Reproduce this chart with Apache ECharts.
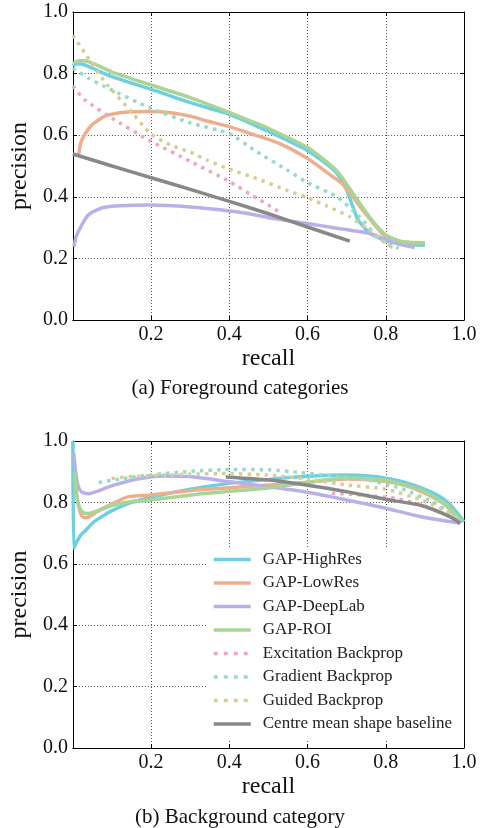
<!DOCTYPE html>
<html>
<head>
<meta charset="utf-8">
<script src="https://cdn.jsdelivr.net/npm/echarts@6/dist/echarts.min.js"></script>
<style>html,body{margin:0;padding:0;background:#fff}#c{width:480px;height:828px}</style>
</head>
<body>
<div id="c"></div>
<script>
const seriesNames = ['GAP-HighRes','GAP-LowRes','GAP-DeepLab','GAP-ROI','Excitation Backprop','Gradient Backprop','Guided Backprop','Centre mean shape baseline'];
const seriesColors = ['#6ccfe3','#eeae8e','#b8b1e8','#a8d595','#f0a7bf','#95dcc4','#d8cd95','#888888'];
const seriesDotted = [false,false,false,false,true,true,true,false];
const captions = ['(a) Foreground categories','(b) Background category'];

// Foreground (recall, precision)
const fgHighRes = [[0.0,0.825],[0.01,0.832],[0.03,0.828],[0.1,0.79],[0.2,0.749],[0.3,0.706],[0.4,0.668],[0.5,0.612],[0.6,0.55],[0.65,0.505],[0.675,0.476],[0.70,0.422],[0.715,0.37],[0.729,0.325],[0.754,0.287],[0.78,0.268],[0.80,0.258],[0.84,0.246],[0.90,0.243]];
const fgLowRes = [[0.014,0.53],[0.02,0.575],[0.032,0.606],[0.05,0.635],[0.082,0.662],[0.12,0.673],[0.15,0.676],[0.2,0.677],[0.25,0.673],[0.3,0.662],[0.343,0.646],[0.4,0.628],[0.45,0.607],[0.526,0.574],[0.6,0.524],[0.658,0.471],[0.692,0.438],[0.741,0.357],[0.795,0.276],[0.841,0.254],[0.9,0.251]];
const fgDeepLab = [[0.003,0.238],[0.008,0.27],[0.016,0.292],[0.03,0.325],[0.041,0.343],[0.06,0.357],[0.082,0.366],[0.12,0.371],[0.2,0.373],[0.3,0.367],[0.381,0.357],[0.45,0.345],[0.509,0.33],[0.6,0.313],[0.675,0.298],[0.758,0.281],[0.8,0.262],[0.84,0.245],[0.874,0.235]];
const fgROI = [[0,0.833],[0.015,0.842],[0.03,0.842],[0.1,0.805],[0.2,0.763],[0.3,0.722],[0.381,0.683],[0.45,0.648],[0.5,0.622],[0.6,0.56],[0.675,0.484],[0.716,0.411],[0.758,0.335],[0.8,0.276],[0.841,0.254],[0.9,0.249]];
const fgExcitation = [[0,0.76],[0.03,0.715],[0.1,0.655],[0.2,0.58],[0.3,0.515],[0.4,0.45],[0.46,0.403],[0.5,0.373],[0.532,0.347]];
const fgGradient = [[0,0.817],[0.04,0.785],[0.082,0.757],[0.2,0.687],[0.3,0.64],[0.4,0.605],[0.468,0.548],[0.55,0.485],[0.6,0.446],[0.675,0.4],[0.733,0.335],[0.774,0.276],[0.8,0.25],[0.833,0.233]];
const fgGuided = [[0,0.925],[0.03,0.868],[0.08,0.776],[0.15,0.675],[0.2,0.603],[0.25,0.568],[0.3,0.545],[0.343,0.519],[0.4,0.49],[0.468,0.46],[0.55,0.42],[0.6,0.397],[0.65,0.37],[0.708,0.335],[0.758,0.292],[0.8,0.249],[0.824,0.23]];
const fgCentre = [[0,0.539],[0.1,0.5],[0.2,0.462],[0.3,0.424],[0.4,0.385],[0.5,0.345],[0.6,0.302],[0.708,0.256]];

// Background (recall, precision)
const bgHighRes = [[0,1.0],[0.002,0.65],[0.01,0.672],[0.021,0.695],[0.032,0.708],[0.054,0.737],[0.082,0.76],[0.1,0.773],[0.148,0.799],[0.2,0.817],[0.3,0.843],[0.4,0.862],[0.5,0.875],[0.6,0.885],[0.7,0.889],[0.757,0.886],[0.8,0.879],[0.84,0.868],[0.891,0.847],[0.93,0.825],[0.957,0.802],[0.98,0.77],[1.0,0.737]];
const bgLowRes = [[0.004,0.894],[0.008,0.84],[0.015,0.785],[0.022,0.758],[0.029,0.75],[0.04,0.752],[0.065,0.772],[0.1,0.795],[0.14,0.818],[0.198,0.824],[0.314,0.84],[0.4,0.848],[0.505,0.857],[0.6,0.866],[0.7,0.876],[0.8,0.868],[0.85,0.855],[0.891,0.835],[0.93,0.81],[0.957,0.786],[0.99,0.735]];
const bgDeepLab = [[0.002,0.96],[0.007,0.9],[0.012,0.86],[0.018,0.84],[0.027,0.831],[0.041,0.828],[0.06,0.835],[0.08,0.845],[0.107,0.857],[0.165,0.876],[0.231,0.886],[0.298,0.884],[0.397,0.868],[0.505,0.85],[0.6,0.833],[0.7,0.808],[0.8,0.781],[0.891,0.753],[0.99,0.732]];
const bgROI = [[0.004,0.9],[0.01,0.82],[0.016,0.786],[0.025,0.768],[0.04,0.764],[0.07,0.776],[0.1,0.79],[0.15,0.803],[0.198,0.808],[0.314,0.826],[0.4,0.836],[0.505,0.848],[0.6,0.865],[0.7,0.88],[0.8,0.872],[0.891,0.84],[0.957,0.79],[0.995,0.735]];
const bgExcitation = [[0.662,0.83],[0.741,0.824],[0.824,0.813],[0.891,0.792],[0.957,0.759],[0.99,0.735]];
const bgGradient = [[0.066,0.865],[0.13,0.878],[0.2,0.89],[0.3,0.901],[0.4,0.907],[0.505,0.906],[0.575,0.898],[0.65,0.888],[0.757,0.872],[0.84,0.845],[0.923,0.8],[0.96,0.77],[0.99,0.742]];
const bgGuided = [[0.099,0.878],[0.15,0.884],[0.231,0.889],[0.3,0.892],[0.4,0.894],[0.493,0.889],[0.6,0.876],[0.7,0.857],[0.8,0.843],[0.891,0.808],[0.957,0.77],[0.99,0.74]];
const bgCentre = [[0.391,0.883],[0.509,0.872],[0.6,0.856],[0.7,0.835],[0.8,0.81],[0.891,0.79],[0.965,0.753],[0.99,0.732]];

const fgData = [fgHighRes,fgLowRes,fgDeepLab,fgROI,fgExcitation,fgGradient,fgGuided,fgCentre];
const bgData = [bgHighRes,bgLowRes,bgDeepLab,bgROI,bgExcitation,bgGradient,bgGuided,bgCentre];

const FONT = 'Liberation Serif';
const chart = echarts.init(document.getElementById('c'), null, {renderer:'canvas'});

function mainX(gi){
  return {gridIndex:gi,type:'value',min:0,max:1,interval:0.2,position:'bottom',
    name:'recall',nameLocation:'middle',nameGap:27,
    nameTextStyle:{fontFamily:FONT,fontSize:24,color:'#111'},
    axisLine:{show:true,onZero:false,lineStyle:{color:'#000',width:1}},
    axisTick:{show:true,inside:true,length:4,lineStyle:{color:'#000'}},
    axisLabel:{fontFamily:FONT,fontSize:20,color:'#111',margin:5,formatter:v=>v===0?'':v.toFixed(1)},
    splitLine:{show:true,lineStyle:{color:'#555',width:1,type:[1,2]}}};
}
function mainY(gi){
  return {gridIndex:gi,type:'value',min:0,max:1,interval:0.2,position:'left',
    name:'precision',nameLocation:'middle',nameGap:35,
    nameTextStyle:{fontFamily:FONT,fontSize:24,color:'#111'},
    axisLine:{show:true,onZero:false,lineStyle:{color:'#000',width:1}},
    axisTick:{show:true,inside:true,length:4,lineStyle:{color:'#000'}},
    axisLabel:{fontFamily:FONT,fontSize:20,color:'#111',margin:5,formatter:v=>v.toFixed(1)},
    splitLine:{show:true,lineStyle:{color:'#555',width:1,type:[1,2]}}};
}
function mirror(gi,pos){
  return {gridIndex:gi,type:'value',min:0,max:1,interval:0.2,position:pos,
    axisLine:{show:true,onZero:false,lineStyle:{color:'#000',width:1}},
    axisTick:{show:true,inside:true,length:4,lineStyle:{color:'#000'}},
    axisLabel:{show:false},splitLine:{show:false}};
}

const series = [];
[fgData,bgData].forEach((set,gi)=>{
  set.forEach((d,i)=>{
    series.push({
      name:seriesNames[i],type:'line',xAxisIndex:gi*2,yAxisIndex:gi*2,
      data:d,symbol:'none',showSymbol:false,smooth:0.2,
      lineStyle:{color:seriesColors[i],width:3.5,type:seriesDotted[i]?[3.5,5]:'solid',cap:'butt'},
      itemStyle:{color:seriesColors[i]},
      z:2,animation:false
    });
  });
});

const legendData = seriesNames.map((n,i)=>({
  name:n,
  lineStyle:{width:3.5,type:seriesDotted[i]?[4,6]:'solid'}
}));

chart.setOption({
  animation:false,
  backgroundColor:'#fff',
  grid:[{left:62,top:12,width:402,height:308},{left:62,top:441,width:402,height:307}],
  xAxis:[mainX(0),mirror(0,'top'),mainX(1),mirror(1,'top')],
  yAxis:[mainY(0),mirror(0,'right'),mainY(1),mirror(1,'right')],
  legend:{data:legendData,orient:'vertical',left:207,top:547,
    padding:[4,12,8,5],itemGap:6.5,itemWidth:37,itemHeight:14,
    backgroundColor:'#fff',borderWidth:0,selectedMode:false,
    itemStyle:{opacity:0},
    lineStyle:{width:3.5},
    textStyle:{fontFamily:FONT,fontSize:17,color:'#222',padding:[0,0,0,7]}},
  graphic:[
    {type:'text',left:'center',top:378,style:{text:captions[0],font:'21px "Liberation Serif"',fill:'#111',textAlign:'center'}},
    {type:'text',left:'center',top:807,style:{text:captions[1],font:'21px "Liberation Serif"',fill:'#111',textAlign:'center'}}
  ],
  series:series
});
</script>
</body>
</html>
